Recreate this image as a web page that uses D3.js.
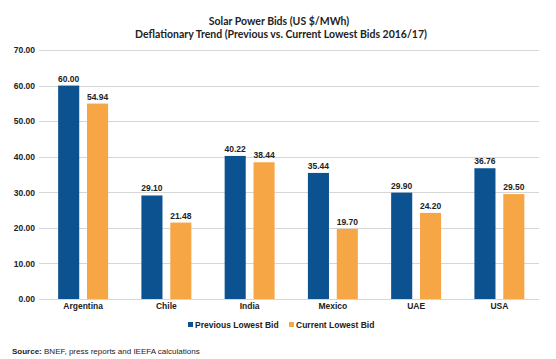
<!DOCTYPE html>
<html>
<head>
<meta charset="utf-8">
<script src="https://cdn.jsdelivr.net/npm/d3@7"></script>
<style>
  body { margin: 0; background: #fff; }
  svg { display: block; }
</style>
</head>
<body>
<svg id="chart" width="556" height="359"></svg>
<script>
// data
let countries = ["Argentina", "Chile", "India", "Mexico", "UAE", "USA"];
let previousBid = [60.00, 29.10, 40.22, 35.44, 29.90, 36.76];
let currentBid = [54.94, 21.48, 38.44, 19.70, 24.20, 29.50];
let seriesNames = ["Previous Lowest Bid", "Current Lowest Bid"];
let yTicks = [0, 10, 20, 30, 40, 50, 60, 70];

let colors = ["#0d5290", "#f7a646"];
let labelFont = "'Liberation Sans', Arial, sans-serif";

let svg = d3.select("#chart");

// titles
svg.append("text")
    .attr("x", 279)
    .attr("y", 25)
    .attr("text-anchor", "middle")
    .attr("font-family", "Lato, sans-serif")
    .attr("font-weight", "bold")
    .attr("font-size", "10.5px")
    .attr("fill", "#222")
    .text("Solar Power Bids (US $/MWh)");

svg.append("text")
    .attr("x", 281)
    .attr("y", 38)
    .attr("text-anchor", "middle")
    .attr("font-family", "Lato, sans-serif")
    .attr("font-weight", "bold")
    .attr("font-size", "10.5px")
    .attr("fill", "#222")
    .text("Deflationary Trend (Previous vs. Current Lowest Bids 2016/17)");

// scales
let y = d3.scaleLinear().domain([0, 70]).range([299, 50]);

let x0 = d3.scaleBand()
    .domain(countries)
    .range([41.5, 541])
    .paddingInner(0.4)
    .paddingOuter(0.2);

let x1 = d3.scaleBand()
    .domain(seriesNames)
    .range([0, x0.bandwidth()])
    .paddingInner(0.27);

// grid lines
svg.append("g")
    .selectAll("line")
    .data(yTicks)
    .enter().append("line")
    .attr("x1", 39)
    .attr("x2", 539)
    .attr("y1", function (d) { return Math.round(y(d)) + 0.5; })
    .attr("y2", function (d) { return Math.round(y(d)) + 0.5; })
    .attr("stroke", "#d6d6d6")
    .attr("stroke-width", 1);

// y axis labels
let yAxis = svg.append("g")
    .attr("transform", "translate(35,0)")
    .call(d3.axisLeft(y).tickValues(yTicks).tickFormat(d3.format(".2f")).tickSize(0).tickPadding(0));
yAxis.select(".domain").remove();
yAxis.selectAll("text")
    .attr("font-family", labelFont)
    .attr("font-weight", "bold")
    .attr("font-size", "8.5px")
    .attr("fill", "#222");

// x axis labels
let xAxis = svg.append("g")
    .attr("transform", "translate(0,303)")
    .call(d3.axisBottom(x0).tickSize(0).tickPadding(0));
xAxis.select(".domain").remove();
xAxis.selectAll("text")
    .attr("font-family", labelFont)
    .attr("font-weight", "bold")
    .attr("font-size", "8.5px")
    .attr("fill", "#222");

// bars
let rows = countries.map(function (c, i) {
    return { country: c, values: [previousBid[i], currentBid[i]] };
});

let groups = svg.append("g")
    .selectAll("g")
    .data(rows)
    .enter().append("g")
    .attr("transform", function (d) { return "translate(" + x0(d.country) + ",0)"; });

groups.selectAll("rect")
    .data(function (d) { return d.values.map(function (v, j) { return { s: seriesNames[j], v: v, j: j }; }); })
    .enter().append("rect")
    .attr("x", function (d) { return x1(d.s); })
    .attr("width", x1.bandwidth())
    .attr("y", function (d) { return y(d.v); })
    .attr("height", function (d) { return y(0) - y(d.v); })
    .attr("fill", function (d) { return colors[d.j]; });

groups.selectAll("text.val")
    .data(function (d) { return d.values.map(function (v, j) { return { s: seriesNames[j], v: v }; }); })
    .enter().append("text")
    .attr("class", "val")
    .attr("x", function (d) { return x1(d.s) + x1.bandwidth() / 2; })
    .attr("y", function (d) { return y(d.v) - 4; })
    .attr("text-anchor", "middle")
    .attr("font-family", labelFont)
    .attr("font-weight", "bold")
    .attr("font-size", "8.5px")
    .attr("fill", "#222")
    .text(function (d) { return d3.format(".2f")(d.v); });

// legend
let legendX = [188, 289];
let legend = svg.append("g")
    .selectAll("g")
    .data(seriesNames)
    .enter().append("g")
    .attr("transform", function (d, i) { return "translate(" + legendX[i] + ",325)"; });

legend.append("rect")
    .attr("x", 0)
    .attr("y", -3)
    .attr("width", 5)
    .attr("height", 5)
    .attr("fill", function (d, i) { return colors[i]; });

legend.append("text")
    .attr("x", 7)
    .attr("y", 3)
    .attr("font-family", labelFont)
    .attr("font-weight", "bold")
    .attr("font-size", "8.5px")
    .attr("fill", "#222")
    .text(function (d) { return d; });

// source note
let source = svg.append("text")
    .attr("x", 12)
    .attr("y", 354)
    .attr("font-family", labelFont)
    .attr("font-size", "8px")
    .attr("fill", "#222");
source.append("tspan").attr("font-weight", "bold").text("Source:");
source.append("tspan").text(" BNEF, press reports and IEEFA calculations");
</script>
</body>
</html>
